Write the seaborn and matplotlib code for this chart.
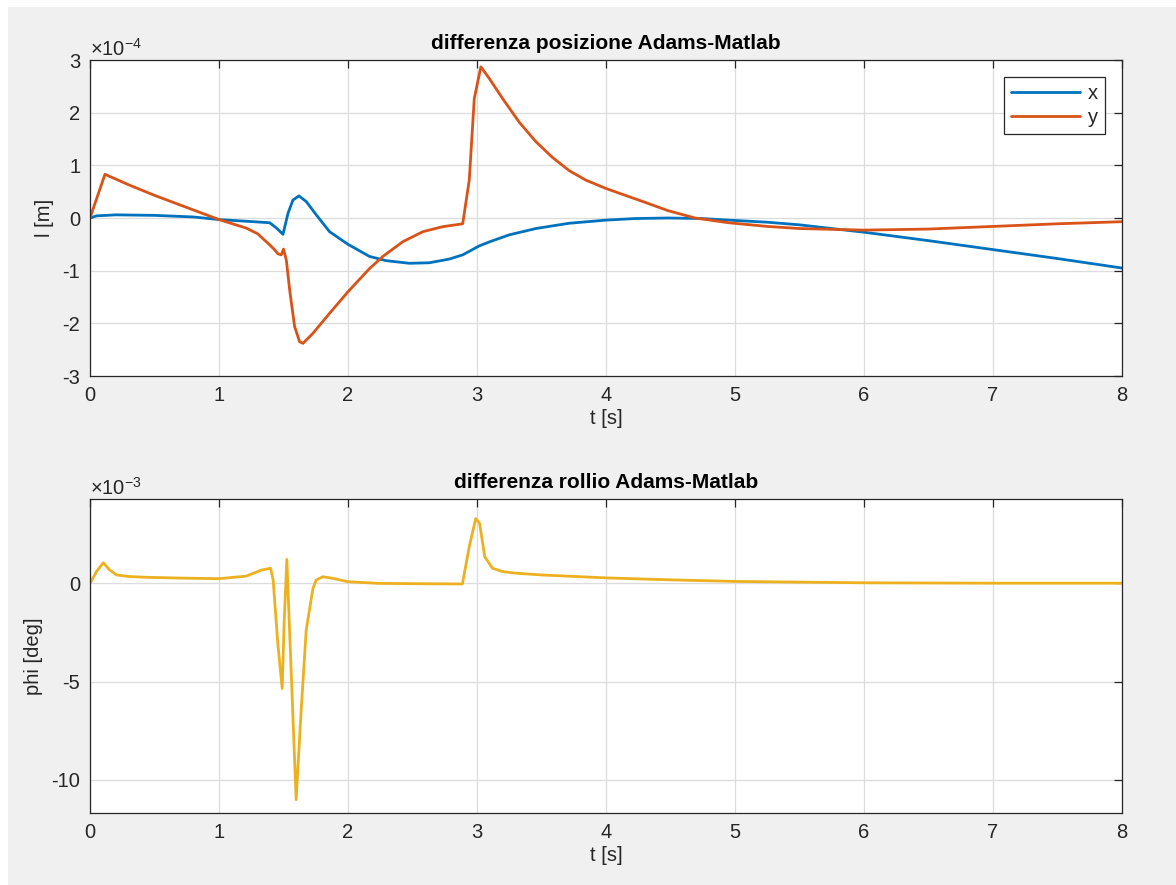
import numpy as np
import pandas as pd
import matplotlib
matplotlib.use("Agg")
import matplotlib.pyplot as plt
import seaborn as sns
from matplotlib.patches import Rectangle
from matplotlib.ticker import ScalarFormatter

# ---------------- data ----------------
t_x = [0, 0.05, 0.2, 0.5, 0.8, 1.0, 1.2, 1.393, 1.45, 1.496, 1.535, 1.573, 1.62, 1.677,
       1.754, 1.857, 2.0, 2.167, 2.296, 2.476, 2.63, 2.785, 2.889, 2.95, 3.017, 3.1,
       3.25, 3.456, 3.714, 4.0, 4.23, 4.48, 4.74, 4.95, 5.25, 5.5, 5.75, 6.0, 6.5,
       7.0, 7.5, 8.0]
pos_x = [0, 0.04, 0.06, 0.05, 0.02, -0.03, -0.06, -0.09, -0.2, -0.31, 0.09, 0.34, 0.42,
         0.31, 0.06, -0.26, -0.5, -0.73, -0.81, -0.86, -0.85, -0.78, -0.7, -0.62, -0.53,
         -0.45, -0.32, -0.2, -0.1, -0.04, -0.01, 0.0, -0.01, -0.04, -0.08, -0.13, -0.2,
         -0.27, -0.43, -0.6, -0.77, -0.95]

t_y = [0, 0.116, 0.3, 0.5, 0.75, 1.0, 1.21, 1.3, 1.393, 1.43, 1.457, 1.483, 1.5, 1.522,
       1.548, 1.586, 1.625, 1.651, 1.728, 1.857, 2.0, 2.167, 2.27, 2.425, 2.58, 2.734,
       2.889, 2.94, 2.979, 3.03, 3.095, 3.198, 3.327, 3.456, 3.585, 3.714, 3.843, 4.0,
       4.15, 4.3, 4.48, 4.69, 4.95, 5.25, 5.5, 6.0, 6.5, 7.0, 7.5, 8.0]
pos_y = [0, 0.83, 0.63, 0.43, 0.2, -0.03, -0.19, -0.3, -0.51, -0.6, -0.68, -0.70, -0.59,
         -0.80, -1.37, -2.06, -2.35, -2.38, -2.19, -1.81, -1.40, -0.96, -0.73, -0.45,
         -0.26, -0.165, -0.11, 0.72, 2.27, 2.87, 2.65, 2.27, 1.82, 1.45, 1.15, 0.90,
         0.72, 0.56, 0.43, 0.30, 0.14, 0.0, -0.09, -0.16, -0.2, -0.23, -0.21, -0.16,
         -0.11, -0.07]
pos_scale = 1e-4

t_phi = [0, 0.05, 0.103, 0.15, 0.206, 0.3, 0.44, 0.7, 1.0, 1.21, 1.33, 1.40, 1.42,
         1.455, 1.49, 1.505, 1.526, 1.598, 1.637, 1.676, 1.728, 1.753, 1.805, 1.88,
         2.0, 2.24, 2.6, 2.887, 2.94, 2.99, 3.02, 3.06, 3.12, 3.2, 3.3, 3.5, 4.0, 4.5,
         5.0, 6.0, 7.0, 8.0]
phi = [0, 0.6, 1.05, 0.7, 0.43, 0.35, 0.31, 0.27, 0.24, 0.37, 0.68, 0.77, 0.17, -3.0,
       -5.36, -2.0, 1.22, -11.02, -6.46, -2.38, -0.26, 0.17, 0.34, 0.26, 0.085, 0.0,
       -0.02, -0.03, 1.87, 3.3, 3.06, 1.36, 0.77, 0.6, 0.52, 0.43, 0.28, 0.18, 0.1,
       0.03, 0.01, 0.01]
phi_scale = 1e-3

series_names = ["x", "y"]
colors = {"x": "#0072BD", "y": "#D95319"}
phi_color = "#EDB120"

title_top = "differenza posizione Adams-Matlab"
title_bot = "differenza rollio Adams-Matlab"
xlabel = "t [s]"
ylabel_top = "l [m]"
ylabel_bot = "phi [deg]"

# ---------------- frames ----------------
df_pos = pd.concat([
    pd.DataFrame({"t": t_x, "val": np.array(pos_x) * pos_scale, "serie": "x"}),
    pd.DataFrame({"t": t_y, "val": np.array(pos_y) * pos_scale, "serie": "y"}),
], ignore_index=True)
df_phi = pd.DataFrame({"t": t_phi, "val": np.array(phi) * phi_scale})


class PlainSci(ScalarFormatter):
    """Scientific formatter with plain-text (hyphen minus) tick labels."""
    def __call__(self, x, pos=None):
        s = super().__call__(x, pos)
        return (s.replace("$", "").replace("\\mathdefault{", "").replace("}", "")
                 .replace("\u2212", "-"))


# ---------------- style ----------------
sns.set_theme(style="white")
plt.rcParams["font.family"] = ["Liberation Sans", "DejaVu Sans"]
plt.rcParams["mathtext.fontset"] = "custom"
plt.rcParams["mathtext.rm"] = "Liberation Sans"
plt.rcParams["mathtext.it"] = "Liberation Sans"
plt.rcParams["axes.unicode_minus"] = False

W, H = 1176, 885
fig = plt.figure(figsize=(W / 100, H / 100), dpi=100, facecolor="white")
fig.patches.append(Rectangle((8 / W, 0), 1, 1 - 7 / H, transform=fig.transFigure,
                             facecolor="#F0F0F0", edgecolor="none", zorder=-10))

def fr(x0, x1, y0, y1):
    return [x0 / W, 1 - y1 / H, (x1 - x0) / W, (y1 - y0) / H]

ax1 = fig.add_axes(fr(90, 1122, 60, 376))
ax2 = fig.add_axes(fr(90, 1122, 499, 813))

text_c = "#262626"
fs = 14.5

sns.lineplot(data=df_pos, x="t", y="val", hue="serie", palette=colors,
             hue_order=series_names, estimator=None, sort=False, linewidth=2.0, ax=ax1)
sns.lineplot(data=df_phi, x="t", y="val", color=phi_color, estimator=None, sort=False,
             linewidth=2.0, ax=ax2)

ax1.set_xlim(0, 8)
ax1.set_ylim(-3e-4, 3e-4)
ax1.set_yticks(np.arange(-3, 4) * 1e-4)
ax2.set_xlim(0, 8)
ax2.set_ylim(-11.7e-3, 4.3e-3)
ax2.set_yticks([-10e-3, -5e-3, 0])

for ax, title, yl, order in [(ax1, title_top, ylabel_top, -4),
                             (ax2, title_bot, ylabel_bot, -3)]:
    ax.set_facecolor("white")
    ax.set_xticks(range(0, 9))
    fmt = PlainSci(useMathText=True)
    fmt.set_powerlimits((order, order))
    ax.yaxis.set_major_formatter(fmt)
    ax.yaxis.get_offset_text().set_fontsize(fs)
    ax.yaxis.get_offset_text().set_color(text_c)
    ax.grid(True, color="#DCDCDC", linewidth=0.9)
    ax.tick_params(direction="in", length=6, width=0.9, colors=text_c,
                   labelsize=fs, top=True, right=True, pad=7)
    for s in ax.spines.values():
        s.set_color(text_c)
        s.set_linewidth(0.9)
    ax.set_title(title, fontsize=15, fontweight="bold", color="black", pad=8)
    ax.set_xlabel(xlabel, fontsize=fs, color=text_c, labelpad=3)
    ax.set_ylabel(yl, fontsize=fs, color=text_c, labelpad=6)

leg = ax1.legend(loc="upper right", bbox_to_anchor=(0.9835, 0.946), borderaxespad=0,
                 fontsize=fs, frameon=True, fancybox=False, edgecolor=text_c,
                 framealpha=1, handlelength=3.4, handletextpad=0.4, borderpad=0.35,
                 labelspacing=0.25, title=None)
leg.get_frame().set_linewidth(0.9)
for txt in leg.get_texts():
    txt.set_color(text_c)

fig.savefig("out.png", dpi=100, facecolor=fig.get_facecolor())
